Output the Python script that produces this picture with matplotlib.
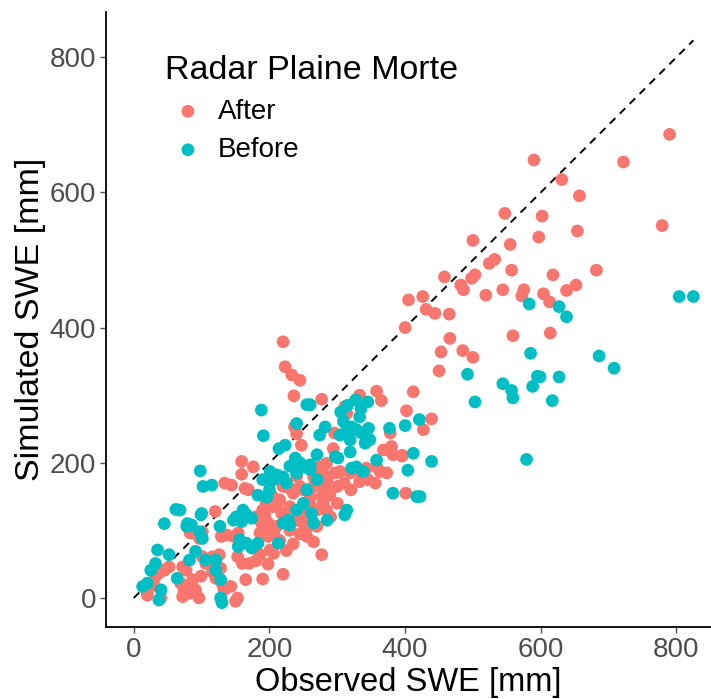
#!/usr/bin/env python
import matplotlib
matplotlib.use("Agg")
import matplotlib.pyplot as plt

############# DATA ############
# After (red) : observed, simulated SWE [mm]
after_obs = [790, 722, 590, 631, 657, 547, 602, 779, 654, 597, 555, 500, 532, 524, 557, 682, 618, 458, 503, 498,
             482, 486, 519, 544, 575, 572, 652, 638, 604, 613, 405, 426, 431, 444, 465, 400, 559, 614, 466, 453,
             485, 500, 450, 412, 402, 439, 427, 396,
             220, 223, 233, 245, 236, 277, 358, 365, 333, 311, 314, 237, 240, 247, 296, 294, 284, 274, 279, 265,
             270, 343, 358, 363, 373, 319, 333, 356, 304, 297, 368, 382, 395, 380, 378, 401, 279, 284, 289, 260,
             250, 257, 274, 265, 279,
             159, 176, 159, 134, 144, 164, 169, 220, 230, 235, 245, 215, 211, 230, 218, 279, 277, 284, 193, 188,
             198, 191, 201, 186, 198, 211, 206, 120, 137, 147, 129, 154, 97, 83, 206, 255, 270, 255, 265, 277,
             186, 201, 101, 89, 45, 37, 52, 32, 20, 30, 40, 72, 77, 69, 82, 74, 87, 72, 96, 82,
             91, 101, 106, 116, 126, 99, 116, 121, 131, 143, 133, 128, 153, 153, 170, 160, 175, 165, 20, 150,
             180, 190, 205, 225, 240, 250, 260, 205, 215, 195, 230, 245, 235, 215, 225, 260, 270, 250, 240, 285,
             300, 310, 320, 335, 345, 290, 300, 190, 220, 180, 198]
after_sim = [686, 645, 648, 619, 595, 569, 565, 551, 543, 534, 523, 529, 501, 495, 485, 485, 478, 475, 478, 473,
             463, 456, 448, 456, 456, 447, 463, 455, 450, 438, 441, 446, 427, 421, 420, 400, 388, 392, 384, 364,
             366, 356, 336, 305, 277, 265, 249, 211,
             379, 342, 330, 322, 299, 294, 306, 292, 300, 283, 273, 253, 243, 226, 244, 221, 199, 194, 185, 179,
             172, 192, 194, 187, 185, 185, 172, 170, 187, 185, 219, 212, 210, 224, 244, 155, 145, 130, 152, 138,
             111, 106, 170, 165, 165,
             202, 194, 183, 170, 167, 162, 160, 165, 162, 155, 165, 145, 138, 135, 125, 140, 150, 165, 123, 111,
             111, 103, 98, 96, 91, 106, 96, 128, 93, 91, 91, 96, 88, 96, 66, 106, 106, 91, 83, 64,
             64, 71, 98, 98, 41, 37, 46, 32, 7, 19, 0, 46, 41, 22, 19, 12, 27, 2, 0, 7,
             12, 61, 51, 61, 64, 32, 39, 29, 19, 17, 12, 44, 0, 61, 51, 51, 74, 27, 4, -5,
             120, 130, 135, 120, 115, 125, 150, 150, 175, 140, 100, 95, 80, 85, 70, 120, 130, 160, 180, 175,
             165, 170, 160, 185, 175, 120, 140, 28, 35, 55, 50]

# Before (teal) : observed, simulated SWE [mm]
before_obs = [804, 825, 627, 638, 583, 686, 708, 599, 627, 617, 585, 492, 595, 588, 544, 557, 559, 503, 421, 400,
              412, 404, 439, 579,
              255, 260, 327, 333, 240, 223, 309, 321, 328, 314, 336, 304, 346, 319, 341, 348, 282, 274, 301, 297,
              319, 270, 238, 252, 260, 328, 338, 321, 358, 382, 422, 417, 314, 311, 265, 228, 377, 315, 335, 305,
              345,
              188, 191, 214, 98, 115, 102, 201, 211, 206, 220, 225, 240, 255, 196, 183, 161, 151, 147, 166, 159,
              174, 100, 85, 78, 68, 127, 97, 156, 166, 183, 174, 154, 213, 230, 220, 62, 45, 79, 99, 101,
              35, 32, 25, 13, 20, 40, 37, 64, 52, 91, 82, 106, 121, 128, 121, 128, 130,
              230, 245, 260, 270, 250, 240, 262, 285, 200, 190]
before_sim = [446, 446, 431, 416, 435, 358, 340, 327, 327, 292, 362, 331, 328, 313, 317, 307, 296, 290, 264, 255,
              214, 189, 202, 205,
              286, 286, 293, 268, 258, 226, 261, 253, 249, 249, 244, 241, 251, 234, 229, 234, 253, 241, 207, 209,
              216, 212, 207, 194, 197, 194, 187, 192, 204, 155, 150, 150, 130, 123, 111, 115, 251, 285, 280, 275,
              290,
              278, 240, 221, 188, 167, 165, 187, 182, 175, 179, 170, 185, 160, 149, 152, 130, 120, 115, 123, 113,
              118, 125, 108, 106, 130, 106, 98, 86, 81, 81, 74, 76, 81, 108, 111, 131, 110, 110, 123, 88,
              71, 51, 41, 17, 22, 12, -3, 29, 64, 69, 56, 56, 56, 27, 41, 0, -7,
              195, 200, 190, 175, 140, 130, 125, 115, 160, 175]

groups = ["After", "Before"]
group_colors = ["#F8766D", "#00BFC4"]
legend_title = "Radar Plaine Morte"
x_ticks = [0, 200, 400, 600, 800]
y_ticks = [0, 200, 400, 600, 800]
line_max = 825

############# PLOT SETTINGS ############
plt.rcParams['font.family'] = ['Liberation Sans', 'DejaVu Sans']
tick_grey = '#4D4D4D'
point_size = 84
title_size = 24.5
xlabel_size = 23.5
text_size = 20

fig = plt.figure(figsize=(7.11, 6.99), dpi=100)
ax = fig.add_axes([106 / 711, 1 - 627 / 699, 605 / 711, 615 / 699])

# 1:1 reference line
ax.plot([0, line_max], [0, line_max], color='black', linestyle=(0, (4, 3.2)), linewidth=1.4, zorder=1)

ax.scatter(after_obs, after_sim, s=point_size, color=group_colors[0], edgecolors='none', label=groups[0], zorder=2)
ax.scatter(before_obs, before_sim, s=point_size, color=group_colors[1], edgecolors='none', label=groups[1], zorder=2)

ax.set_xlim(-41, 851)
ax.set_ylim(-43, 867)
ax.set_xticks(x_ticks)
ax.set_yticks(y_ticks)

for side in ['top', 'right']:
    ax.spines[side].set_visible(False)
for side in ['left', 'bottom']:
    ax.spines[side].set_linewidth(1.3)
    ax.spines[side].set_color('black')

ax.tick_params(axis='both', direction='out', length=4, width=1, color=tick_grey,
               labelcolor=tick_grey, labelsize=text_size, pad=3)

ax.set_xlabel("Observed SWE [mm]", fontsize=xlabel_size, labelpad=3)
ax.set_ylabel("Simulated SWE [mm]", fontsize=title_size, labelpad=3)

leg = ax.legend(title=legend_title, loc='upper left', bbox_to_anchor=(0.0975, 0.93), frameon=False,
                fontsize=text_size, title_fontsize=title_size, alignment='left',
                handlelength=1.65, handletextpad=0.25, labelspacing=0.45, borderpad=0,
                borderaxespad=0)

fig.savefig("out.png", dpi=100)
